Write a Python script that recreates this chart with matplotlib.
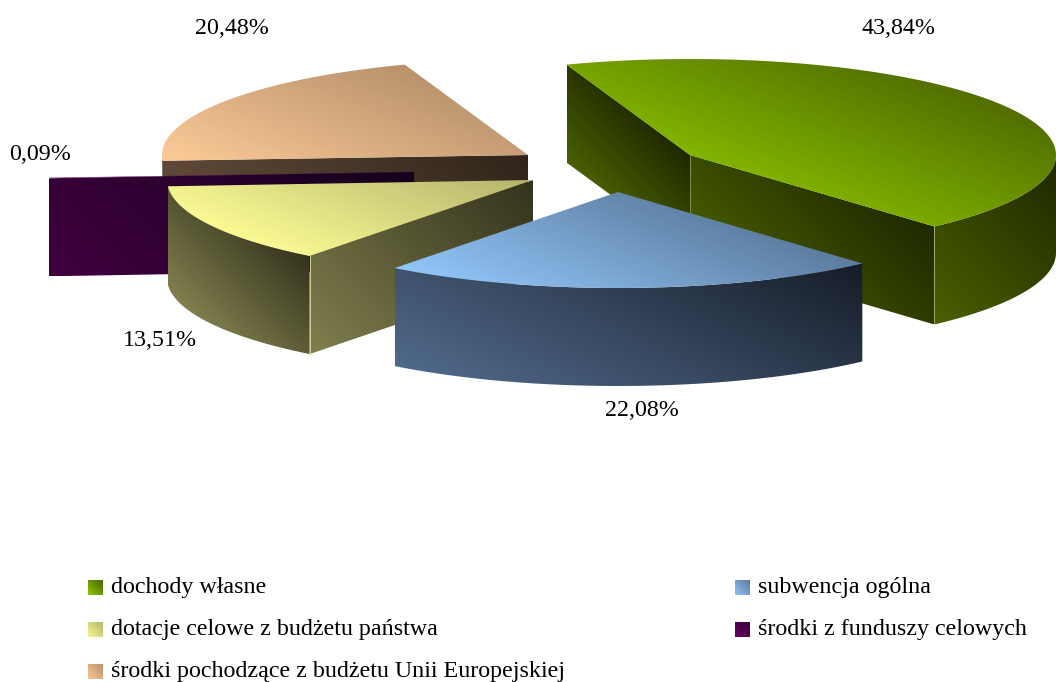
import numpy as np
import matplotlib
matplotlib.use("Agg")
import matplotlib.pyplot as plt
from matplotlib.colors import LinearSegmentedColormap
from matplotlib.patches import Polygon

plt.rcParams["font.family"] = ["Liberation Serif", "DejaVu Serif"]

# chart values, in the order of the pie
labels = ["dochody własne", "subwencja ogólna", "dotacje celowe z budżetu państwa",
          "środki z funduszy celowych", "środki pochodzące z budżetu Unii Europejskiej"]
values = [43.84, 22.08, 13.51, 0.09, 20.48]
value_texts = ["43,84%", "22,08%", "13,51%", "0,09%", "20,48%"]

# apex of every exploded slice, in pixels
centers = [(690, 155), (618, 192), (533, 180), (414, 172), (528, 155)]
text_pos = [(899, 29), (642, 411), (160, 340), (40, 155), (232, 29)]

# (light, dark) colours
top_cols = [("#82b400", "#526e00"), ("#92c6fa", "#5c7c9e"), ("#f9fa92", "#b4b36e"),
            ("#660066", "#3c003c"), ("#fdcb98", "#b8926c")]
side_cols = [("#4a6000", "#1e2800"), ("#50698a", "#161c28"), ("#807f4e", "#33321c"),
             ("#40003f", "#14001c"), ("#6a5240", "#30241a")]
legend_cols = [("#90c800", "#4a6400"), ("#90c4f8", "#5c7a9c"), ("#f8f990", "#b5b56c"),
               ("#660066", "#3a003a"), ("#fbc896", "#b8926c")]

# gradient direction of the walls
side_dirs = [(1, -1), (1, -2), (1, -1), (1, -1), (1, -1)]

# legend rows: x of square, y of row
legend_pos = [(88, 587), (735, 587), (88, 629), (735, 629), (88, 671)]

rx, ry, depth = 366, 96, 98
start = -19.7  # degrees from the top, clockwise

fig = plt.figure(figsize=(10.56, 6.82), dpi=100)
ax = fig.add_axes([0, 0, 1, 1])
ax.set_xlim(0, 1056)
ax.set_ylim(682, 0)
ax.axis("off")


def gradient(pts, cols, z, direction=(0.4, -1.0)):
    # light at the bottom left, dark at the top right, clipped to the face
    pts = np.array(pts)
    x0, x1 = pts[:, 0].min(), pts[:, 0].max()
    y0, y1 = pts[:, 1].min(), pts[:, 1].max()
    xx, yy = np.meshgrid(np.linspace(x0, x1, 200), np.linspace(y0, y1, 200))
    g = xx * direction[0] + yy * direction[1]
    proj = pts[:, 0] * direction[0] + pts[:, 1] * direction[1]
    g = np.clip((g - proj.min()) / (proj.max() - proj.min()), 0, 1)
    cmap = LinearSegmentedColormap.from_list("g", cols)
    im = ax.imshow(g, extent=(x0, x1, y1, y0), cmap=cmap, vmin=0, vmax=1, zorder=z,
                   aspect="auto", interpolation="bilinear")
    clip = Polygon(pts, transform=ax.transData, fc="none", ec="none")
    ax.add_patch(clip)
    im.set_clip_path(clip)


def rim(c, a0, a1):
    t = np.radians(np.linspace(a0, a1, 120))
    return np.column_stack([c[0] + rx * np.sin(t), c[1] - ry * np.cos(t)])


angle = start
z = 1
draw_order = [4, 3, 2, 0, 1]
spans = []
for v in values:
    spans.append((angle, angle + v * 3.6))
    angle += v * 3.6

# which cut faces look towards the viewer
faces_seen = {0: (0, -1), 1: (), 2: (0,), 3: (0,), 4: (0,)}

for i in draw_order:
    c = centers[i]
    a0, a1 = spans[i]
    edge = rim(c, a0, a1)
    down = np.array([0, depth])
    for k in faces_seen[i]:
        p = edge[k]
        face = [c, p, p + down, np.array(c) + down]
        gradient(face, side_cols[i], z, side_dirs[i])
        z += 1
    # outer wall, only the part that faces us
    front = edge[np.cos(np.radians(np.linspace(a0, a1, 120))) <= 0]
    if len(front) > 1 and i != 3:
        wall = np.vstack([front, (front + down)[::-1]])
        gradient(wall, side_cols[i], z, side_dirs[i])
        z += 1
    # top
    top = np.vstack([[c], edge])
    gradient(top, top_cols[i], z)
    z += 1
    # thin light lines at the corners
    if i == 0:
        ax.plot([c[0], c[0]], [c[1], c[1] + depth], color="#8a9a50", lw=0.6, zorder=z)
        ax.plot([edge[-1][0]] * 2, [edge[-1][1], edge[-1][1] + depth], color="#a0aa70", lw=0.7, zorder=z)
    if i == 2:
        ax.plot([edge[0][0]] * 2, [edge[0][1], edge[0][1] + depth], color="#d0d0a0", lw=0.7, zorder=z)
    z += 1

for txt, (x, y) in zip(value_texts, text_pos):
    ax.text(x, y, txt, fontsize=17.3, ha="center", va="center", color="black", zorder=z)

for lab, cols, (x, y) in zip(labels, legend_cols, legend_pos):
    gradient([(x, y - 7), (x + 15, y - 7), (x + 15, y + 8), (x, y + 8)], cols, z, direction=(1, -1))
    ax.text(x + 23, y, lab, fontsize=17.3, ha="left", va="center", color="black", zorder=z)

ax.set_xlim(0, 1056)
ax.set_ylim(682, 0)
fig.savefig("out.png", dpi=100, facecolor="white")
